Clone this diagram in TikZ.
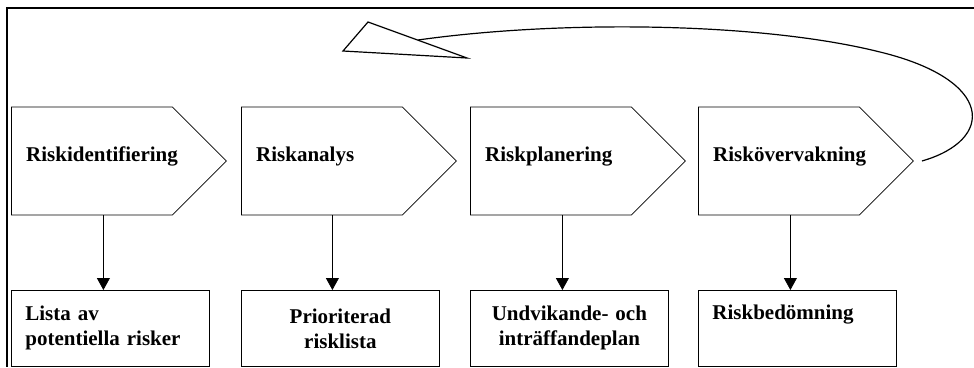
\documentclass[tikz,border=0pt]{standalone}
\usepackage{fontspec}
\setmainfont{Liberation Serif}
\usetikzlibrary{shapes.symbols,arrows.meta}

\begin{document}
\begin{tikzpicture}[x=1pt, y=-1pt,
	steg/.style={draw, line width=0.8pt, shape=signal, signal to=east, signal pointer angle=90, minimum width=215pt, minimum height=108pt, inner sep=0pt, anchor=west},
	steglabel/.style={anchor=base west, xshift=15pt, inner sep=0pt, font=\fontsize{21}{25}\selectfont\bfseries},
	resultat/.style={draw, line width=0.8pt, minimum width=198pt, minimum height=76pt, anchor=north west, inner sep=0pt, text width=170pt, font=\fontsize{21}{25}\selectfont\bfseries},
	pil/.style={line width=0.8pt, -{Triangle[length=12pt, width=13pt]}}]
				\useasboundingbox (0,0) rectangle (974,367);
				\draw[line width=1.5pt] (974,8) -- (7,8) -- (7,367);
				\node[steg, label={[steglabel]west:Riskidentifiering}] (S1)at(11,161) {};
				\node[steg, label={[steglabel]west:Riskanalys}] (S2)at(241,161) {};
				\node[steg, label={[steglabel]west:Riskplanering}] (S3)at(470,161) {};
				\node[steg, label={[steglabel]west:Risk\"overvakning}] (S4)at(698,161) {};
				\node[resultat, align=left] (R1)at(11,290) {Lista av\\potentiella risker};
				\node[resultat, align=center] (R2)at(241,290) {Prioriterad\\risklista};
				\node[resultat, align=center] (R3)at(470,290) {Undvikande- och\\intr\"affandeplan};
				\node[resultat, align=left] (R4)at(698,290) {Riskbed\"omning\\\strut};
				\draw[pil] ([xshift=-7pt]R1.north |- S1.south) -- ([xshift=-7pt]R1.north);
				\draw[pil] ([xshift=-8pt]R2.north |- S2.south) -- ([xshift=-8pt]R2.north);
				\draw[pil] ([xshift=-7pt]R3.north |- S3.south) -- ([xshift=-7pt]R3.north);
				\draw[pil] ([xshift=-7pt]R4.north |- S4.south) -- ([xshift=-7pt]R4.north);
				\coordinate (spets) at (343,51);
				\coordinate (bas1) at (368,22);
				\coordinate (bas2) at (467,58);
				\coordinate (slut) at (418,40);
				\draw[line width=1.2pt] ([xshift=8pt]S4.east) .. controls (995,140) and (995,80) .. (880,52) .. controls (760,22) and (560,20) .. (slut);
				\draw[line width=1.2pt, line join=miter] (bas1) -- (spets) -- (bas2) -- cycle;
			\end{tikzpicture}
\end{document}
